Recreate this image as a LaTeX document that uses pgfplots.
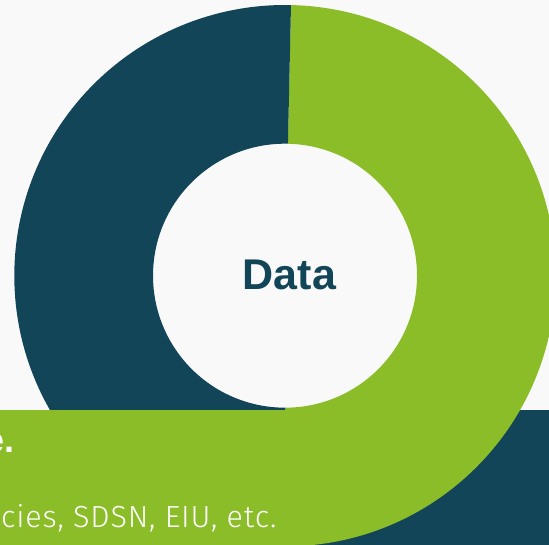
\documentclass[border=0pt]{standalone}
\usepackage{pgfplots}
\pgfplotsset{compat=1.18}
\usepackage{pgfplotstable}
\usepackage{fontspec}
\setmainfont{Liberation Sans}
\newfontfamily\lightfont[LetterSpace=2.7]{Fira Sans Light}
\definecolor{navy}{HTML}{134558}
\definecolor{lgreen}{HTML}{8BBD28}
\definecolor{bg}{HTML}{F9F9F9}

\pgfplotstableread{
label value
Green 49.6
Navy 50.4
}\slices

\begin{document}
\begin{tikzpicture}[x=1bp,y=1bp]
\path[use as bounding box] (0,0) rectangle (549,545);
\clip (0,0) rectangle (549,545);
\begin{axis}[at={(0,0)}, anchor=south west, scale only axis,
  width=549bp, height=545bp, xmin=0, xmax=549, ymin=0, ymax=545,
  y dir=reverse, hide axis, clip=true]
\fill[bg] (axis cs:0,0) rectangle (axis cs:549,545);
\fill[navy] (axis cs:280,410) rectangle (axis cs:549,545);
\pgfplotstablegetelem{0}{value}\of\slices \let\vA\pgfplotsretval
\pgfplotstablegetelem{1}{value}\of\slices \let\vB\pgfplotsretval
\pgfmathsetmacro{\sA}{88.73}
\pgfmathsetmacro{\eA}{\sA-3.6*\vA}
\pgfmathsetmacro{\eB}{\eA-3.6*\vB}
\fill[lgreen] (axis cs:285,275.7) ++(canvas polar cs:angle=\sA,radius=270.7bp)
  arc[start angle=\sA, end angle=\eA, radius=270.7bp]
  -- ++(canvas polar cs:angle=\eA,radius=-138.7bp)
  arc[start angle=\eA, end angle=\sA, radius=132bp] -- cycle;
\fill[navy] (axis cs:285,275.7) ++(canvas polar cs:angle=\eA,radius=270.7bp)
  arc[start angle=\eA, end angle=\eB, radius=270.7bp]
  -- ++(canvas polar cs:angle=\eB,radius=-138.7bp)
  arc[start angle=\eB, end angle=\eA, radius=132bp] -- cycle;
\fill[lgreen] (axis cs:0,410) rectangle (axis cs:287,545);
\node[anchor=base, text=navy, inner sep=0pt, font=\bfseries\fontsize{43bp}{48bp}\selectfont] at (axis cs:289.5,289.5) {Data};
\node[anchor=base east, text=white, inner sep=0pt, font=\bfseries\fontsize{36bp}{40bp}\selectfont] at (axis cs:15,452) {e.};
\node[anchor=base west, text=white, inner sep=0pt, font=\lightfont\fontsize{30.5bp}{34bp}\selectfont] at (axis cs:1,527.5) {cies, SDSN, EIU, etc.};
\end{axis}
\end{tikzpicture}
\end{document}
